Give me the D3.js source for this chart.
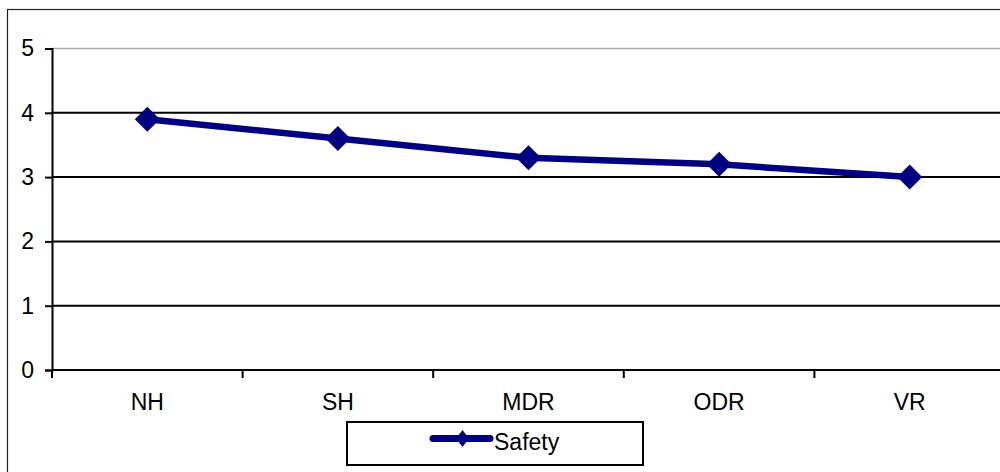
<!DOCTYPE html>
<html>
<head>
<meta charset="utf-8">
<script src="https://cdn.jsdelivr.net/npm/d3@7"></script>
<style>
  body { margin: 0; background: #fff; }
  svg { display: block; font-family: "Liberation Sans", Arial, sans-serif; }
</style>
</head>
<body>
<div id="vis"></div>
<script>
var w = 1000, h = 472;

// chart data
var categories = ["NH", "SH", "MDR", "ODR", "VR"];
var safety = [3.9, 3.6, 3.3, 3.2, 3.0];
var yTicks = [0, 1, 2, 3, 4, 5];
var seriesName = "Safety";

var fontSize = 23;

var svg = d3.select("#vis").append("svg")
    .attr("width", w)
    .attr("height", h);

// outer chart border (runs off the right and bottom edges)
svg.append("rect")
    .attr("x", 7.5).attr("y", 9.5)
    .attr("width", 1010).attr("height", 480)
    .attr("fill", "#fff")
    .attr("stroke", "#222")
    .attr("stroke-width", 1.2);

var x = d3.scaleBand()
    .domain(categories)
    .range([52, 1005]);

var y = d3.scaleLinear()
    .domain([0, 5])
    .range([370, 48.5]);

// horizontal grid lines
svg.selectAll("line.grid")
    .data(yTicks.filter(function(d){ return d > 0; }))
    .enter()
    .append("line")
    .attr("class", "grid")
    .attr("x1", 52).attr("x2", w)
    .attr("y1", function(d){ return y(d); })
    .attr("y2", function(d){ return y(d); })
    .attr("stroke", function(d){ return d == 5 ? "#aaa" : "#000"; })
    .attr("stroke-width", function(d){ return d == 5 ? 1.6 : 2; });

// y axis
var yAxis = svg.append("g")
    .attr("transform", "translate(52,0)")
    .call(d3.axisLeft(y).tickValues(yTicks).tickSize(7).tickPadding(11).tickFormat(d3.format("d")));
yAxis.select(".domain").attr("stroke", "#000").attr("stroke-width", 2);
yAxis.selectAll(".tick line").attr("stroke", "#000").attr("stroke-width", 2);
yAxis.selectAll("text")
    .attr("font-size", fontSize)
    .attr("fill", "#000")
    .attr("font-family", "Liberation Sans, Arial, sans-serif");

// x axis
var xAxis = svg.append("g")
    .attr("transform", "translate(0,370)")
    .call(d3.axisBottom(x).tickSize(0).tickPadding(24));
xAxis.select(".domain").remove();
xAxis.append("line")
    .attr("x1", 52).attr("x2", w)
    .attr("stroke", "#000").attr("stroke-width", 2);
xAxis.selectAll("line.xtick")
    .data(categories)
    .enter()
    .append("line")
    .attr("class", "xtick")
    .attr("x1", function(d){ return x(d); })
    .attr("x2", function(d){ return x(d); })
    .attr("y1", 0).attr("y2", 8)
    .attr("stroke", "#000").attr("stroke-width", 2);
xAxis.selectAll(".tick text")
    .attr("font-size", fontSize)
    .attr("fill", "#000")
    .attr("font-family", "Liberation Sans, Arial, sans-serif");

// series line
var pts = categories.map(function(c, i){
    return { name: c, value: safety[i] };
});

var line = d3.line()
    .x(function(d){ return x(d.name) + x.bandwidth() / 2; })
    .y(function(d){ return y(d.value); });

svg.append("path")
    .datum(pts)
    .attr("d", line)
    .attr("fill", "none")
    .attr("stroke", "#000080")
    .attr("stroke-width", 6.5)
    .attr("stroke-linejoin", "round");

// diamond markers
var diamond = function(cx, cy, rx, ry){
    return "M" + cx + "," + (cy - ry) + "L" + (cx + rx) + "," + cy +
           "L" + cx + "," + (cy + ry) + "L" + (cx - rx) + "," + cy + "Z";
};

svg.selectAll("path.marker")
    .data(pts)
    .enter()
    .append("path")
    .attr("class", "marker")
    .attr("d", function(d){
        return diamond(x(d.name) + x.bandwidth() / 2, y(d.value), 12.5, 12.5);
    })
    .attr("fill", "#000080");

// legend
var legend = svg.append("g");
legend.append("rect")
    .attr("x", 347).attr("y", 422)
    .attr("width", 296).attr("height", 43)
    .attr("fill", "#fff")
    .attr("stroke", "#000")
    .attr("stroke-width", 2);
legend.append("line")
    .attr("x1", 433).attr("x2", 490)
    .attr("y1", 438.5).attr("y2", 438.5)
    .attr("stroke", "#000080")
    .attr("stroke-width", 7)
    .attr("stroke-linecap", "round");
legend.append("path")
    .attr("d", diamond(462.5, 438.5, 6.5, 8.5))
    .attr("fill", "#000080");
legend.append("text")
    .attr("x", 494).attr("y", 450)
    .attr("font-size", fontSize)
    .attr("fill", "#000")
    .text(seriesName);
</script>
</body>
</html>
